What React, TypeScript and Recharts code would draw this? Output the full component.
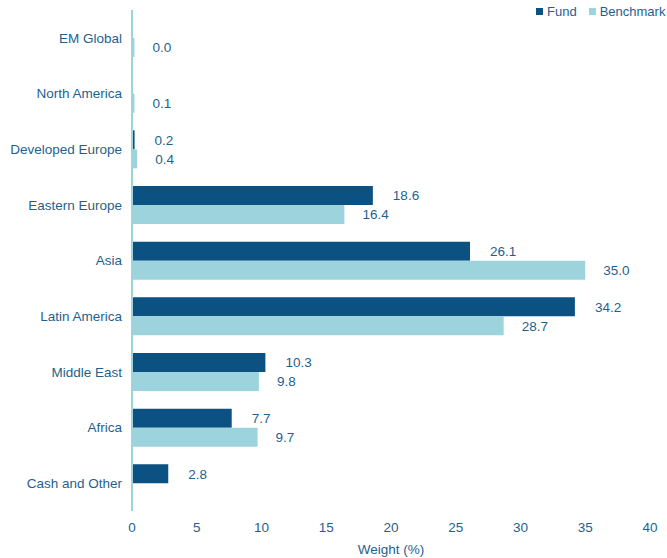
import React from 'react';
import { BarChart, Bar, XAxis, YAxis, LabelList, Legend } from 'recharts';

const categories = ['EM Global', 'North America', 'Developed Europe', 'Eastern Europe', 'Asia', 'Latin America', 'Middle East', 'Africa', 'Cash and Other'];
const fund: (number | null)[] = [null, null, 0.2, 18.6, 26.1, 34.2, 10.3, 7.7, 2.8];
const benchmark: (number | null)[] = [0.04, 0.1, 0.4, 16.4, 35.0, 28.7, 9.8, 9.7, null];
const xTicks = [0, 5, 10, 15, 20, 25, 30, 35, 40];

const data = categories.map((c, i) => ({ name: c, fund: fund[i], benchmark: benchmark[i] }));

const FUND = '#0B5282';
const BENCH = '#9CD3DC';
const TEXT = '#1F5F8E';
const FONT = '"Liberation Sans", Arial, sans-serif';

const fmt = (v: any) => (v === null || v === undefined ? '' : Number(v).toFixed(1));
const minSize = (v: any) => (v === null || v === undefined ? 0 : 2.5);

const LegendContent = () => (
  <div style={{ position: 'absolute', left: 536, top: 4, fontFamily: FONT, fontSize: 13, color: TEXT, display: 'flex', alignItems: 'center', whiteSpace: 'nowrap' }}>
    <span style={{ display: 'inline-block', width: 7, height: 7, background: FUND, marginRight: 4 }} />
    <span style={{ marginRight: 12 }}>Fund</span>
    <span style={{ display: 'inline-block', width: 7, height: 7, background: BENCH, marginRight: 4 }} />
    <span>Benchmark</span>
  </div>
);

export default function App() {
  return (
    <div style={{ position: 'absolute', left: 0, top: 0, width: 667, height: 558 }}>
      <BarChart
        width={667}
        height={558}
        data={data}
        layout="vertical"
        margin={{ top: 10, right: 17, bottom: 17, left: 0 }}
        barGap={0}
      >
        <XAxis
          type="number"
          domain={[0, 40]}
          ticks={xTicks}
          axisLine={false}
          tickLine={false}
          tickMargin={5}
          tick={{ fill: TEXT, fontSize: 13.5, fontFamily: FONT }}
          label={{ value: 'Weight (%)', position: 'insideBottom', offset: -13, fill: TEXT, fontSize: 13.5, fontFamily: FONT }}
        />
        <YAxis
          type="category"
          dataKey="name"
          width={132}
          axisLine={{ stroke: BENCH, strokeWidth: 2 }}
          tickLine={false}
          tickMargin={4}
          tick={{ fill: TEXT, fontSize: 13.5, fontFamily: FONT }}
          interval={0}
        />
        <Legend verticalAlign="top" content={<LegendContent />} wrapperStyle={{ top: 0, left: 0 }} />
        <Bar dataKey="fund" name="Fund" fill={FUND} barSize={19} isAnimationActive={false}>
          <LabelList dataKey="fund" position="right" offset={20} formatter={fmt} style={{ fill: TEXT, fontSize: 13.5, fontFamily: FONT }} />
        </Bar>
        <Bar dataKey="benchmark" name="Benchmark" fill={BENCH} barSize={19} minPointSize={minSize as any} isAnimationActive={false}>
          <LabelList dataKey="benchmark" position="right" offset={18} formatter={fmt} style={{ fill: TEXT, fontSize: 13.5, fontFamily: FONT }} />
        </Bar>
      </BarChart>
    </div>
  );
}
